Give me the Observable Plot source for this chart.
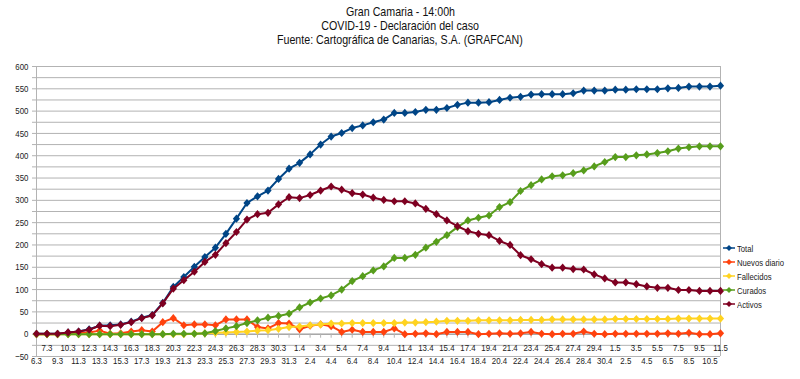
<!DOCTYPE html>
<html><head><meta charset="utf-8">
<script src="https://cdn.jsdelivr.net/npm/d3@7"></script>
<script src="https://cdn.jsdelivr.net/npm/@observablehq/plot@0.6"></script>
<style>
body{margin:0;background:#fff;}
#wrap{position:relative;width:800px;height:379px;overflow:hidden;font-family:"Liberation Sans",Arial,sans-serif;}
#title{height:50px;text-align:center;line-height:14px;padding-top:5px;box-sizing:border-box;color:#111;font-size:13px;}
#title span{display:inline-block;transform:scaleX(0.82);white-space:nowrap;}
#legend{position:absolute;left:722px;top:241px;color:#222;font-size:9.4px;}
#legend div{height:14px;display:flex;align-items:center;white-space:nowrap;}
#legend span{display:inline-block;transform:scaleX(0.82);transform-origin:left center;}
</style></head><body>
<div id="wrap"><div id="title"><span>Gran Camaria - 14:00h</span><br><span>COVID-19 - Declaración del caso</span><br><span>Fuente: Cartográfica de Canarias, S.A. (GRAFCAN)</span></div><div id="chart"></div><div id="legend"></div></div>
<script>
const dates = ["6.3","7.3","9.3","10.3","11.3","12.3","13.3","14.3","15.3","16.3","17.3","18.3","19.3","20.3","21.3","22.3","23.3","24.3","25.3","26.3","27.3","28.3","29.3","30.3","31.3","1.4","2.4","3.4","4.4","5.4","6.4","7.4","8.4","9.4","10.4","11.4","12.4","13.4","14.4","15.4","16.4","17.4","18.4","19.4","20.4","21.4","22.4","23.4","24.4","25.4","26.4","27.4","28.4","29.4","30.4","1.5","2.5","3.5","4.5","5.5","6.5","7.5","8.5","9.5","10.5","11.5"];
const total = [1,1,1,4,6,11,19,20,22,28, 37,43,70,106,128,151,173,194,225,259, 294,309,322,348,371,384,403,425,443,451, 462,468,475,481,496,496,498,503,503,507, 514,519,519,520,525,530,532,537,538,538, 538,540,546,546,546,548,548,549,549,549, 551,552,555,555,555,557];
const nuevos = [0,0,0,3,2,4,8,1,2,6, 9,6,27,36,20,22,22,20,33,33, 33,16,13,25,24,11,19,22,18,5, 10,5,5,5,13,0,1,2,0,5, 5,5,0,1,2,1,2,5,1,0, 1,1,6,1,0,1,1,1,1,1, 2,1,3,0,0,2];
const fallecidos = [0,0,0,0,0,0,0,0,0,0, 0,0,0,0,0,1,2,3,4,5, 6,8,9,12,16,17,20,22,24,24, 25,25,25,25,25,26,26,27,28,30, 30,30,31,31,31,31,32,32,32,33, 33,33,33,33,33,34,34,34,34,34, 34,35,35,35,35,35];
const curados = [0,0,0,0,0,0,0,0,0,0, 0,0,0,1,1,1,2,7,13,18, 25,31,37,41,46,60,71,80,87,100, 119,130,143,152,171,171,178,194,207,222, 240,255,261,266,285,296,321,334,347,354, 356,361,367,376,386,397,397,401,403,406, 410,416,419,421,421,421];
const activos = [1,1,1,4,6,10,19,18,21,27, 36,42,69,102,121,140,162,178,204,229, 257,269,272,291,307,305,312,322,331,324, 316,313,306,301,298,298,293,281,269,255, 242,231,225,222,209,200,177,168,157,149, 149,146,145,134,125,116,116,112,107,104, 104,99,99,97,97,97];
const seriesNames = ["Total","Nuevos diario","Fallecidos","Curados","Activos"];
const seriesColors = ["#004586","#ff420e","#ffd320","#579d1c","#7e0021"];
const seriesValues = [total, nuevos, fallecidos, curados, activos];
const yLabels = d3.range(-50, 601, 50);
const yGrid = d3.range(-50, 601, 25);

const FF = '"Liberation Sans", Arial, sans-serif';
const small = 9.6;

const table = [];
seriesNames.forEach((s, k) => seriesValues[k].forEach((v, i) => table.push({series: s, date: dates[i], value: v})));

const diamond = {draw(ctx, size) { const w = 3.6, h = 4.1; ctx.moveTo(0,-h); ctx.lineTo(w,0); ctx.lineTo(0,h); ctx.lineTo(-w,0); ctx.closePath(); }};

const topRow = dates.filter((d, i) => i % 2 === 1);
const bottomRow = dates.filter((d, i) => i % 2 === 0);
const grey = "#b3b3b3";

const marks = [
  Plot.ruleY(yGrid, {stroke: grey, strokeWidth: 1}),
  Plot.axisY(yGrid, {tickSize: 4, text: null, stroke: grey, label: null}),
  Plot.axisY(yLabels, {tickSize: 0, tickPadding: 8, fill: "#222", fontSize: small, label: null}),
  Plot.ruleX([dates[0], dates[dates.length-1]], {y1: -50, y2: 600, stroke: grey}),
  Plot.ruleY([0], {stroke: "#999"}),
  Plot.ruleX(dates, {x: d => d, y1: 0, y2: -9, stroke: grey}),
  Plot.text(topRow, {x: d => d, y: () => 0, dy: 14, text: d => d, fill: "#222", fontSize: small}),
  Plot.text(bottomRow, {x: d => d, y: () => 0, dy: 27, text: d => d, fill: "#222", fontSize: small})
];
seriesNames.forEach((s, k) => {
  const rows = table.filter(r => r.series === s);
  marks.push(Plot.line(rows, {x: "date", y: "value", stroke: seriesColors[k], strokeWidth: 2}));
  marks.push(Plot.dot(rows, {x: "date", y: "value", fill: seriesColors[k], stroke: "none", symbol: diamond, r: 4}));
});

const chart = Plot.plot({
  width: 800, height: 329,
  marginLeft: 36, marginRight: 80, marginTop: 16, marginBottom: 23,
  style: {fontFamily: FF, fontSize: small + "px", background: "#fff"},
  x: {type: "point", domain: dates, padding: 0, axis: null},
  y: {domain: [-50, 600], axis: null},
  marks
});
document.getElementById("chart").appendChild(chart);
chart.querySelectorAll("text").forEach(t => {
  const L = t.getComputedTextLength();
  if (L > 0) { t.setAttribute("textLength", (L * 0.82).toFixed(2)); t.setAttribute("lengthAdjust", "spacingAndGlyphs"); }
});

const lg = document.getElementById("legend");
seriesNames.forEach((s, k) => {
  const row = document.createElement("div");
  row.innerHTML = `<svg width="14" height="10" style="margin-right:1px"><line x1="1" x2="13" y1="5" y2="5" stroke="${seriesColors[k]}" stroke-width="1.5"/><path d="M7,2L10,5L7,8L4,5Z" fill="${seriesColors[k]}"/></svg><span>${s}</span>`;
  lg.appendChild(row);
});
</script>
</body></html>
